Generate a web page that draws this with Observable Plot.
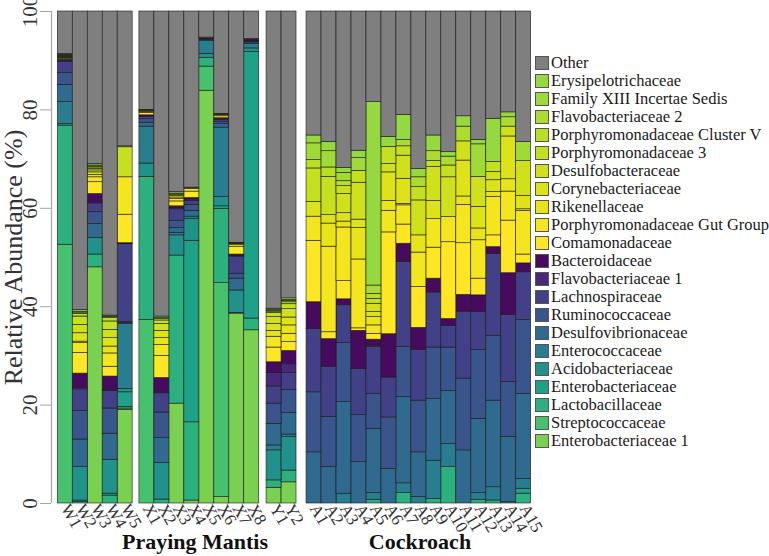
<!DOCTYPE html>
<html>
<head>
<meta charset="utf-8">
<script src="https://cdn.jsdelivr.net/npm/d3@7"></script>
<script src="https://cdn.jsdelivr.net/npm/@observablehq/plot@0.6"></script>
<style>
  body { margin: 0; background: #fff; }
  #wrap { position: relative; width: 769px; height: 556px; font-family: "Liberation Serif", "Times New Roman", serif; }
  #chart svg, #chart svg text { font-family: "Liberation Serif", "Times New Roman", serif !important; }
  #legend { position: absolute; left: 535px; top: 54px; }
  .row { display: flex; align-items: center; height: 18px; font-size: 16.5px; color: #1a1a1a; white-space: nowrap; }
  .sw { width: 14px; height: 14px; border: 1px solid #555; box-sizing: border-box; margin-right: 2px; flex: none; }
  .group { position: absolute; top: 529px; font-weight: bold; font-size: 22px; color: #111; transform: translateX(-50%); white-space: nowrap; }
</style>
</head>
<body>
<div id="wrap">
  <div id="chart"></div>
  <div id="legend"></div>
  <div class="group" style="left:195px">Praying Mantis</div>
  <div class="group" style="left:420px">Cockroach</div>
</div>
<script>
// Samples (x categories)
const samples = ["W1","W2","W3","W4","W5","X1","X2","X3","X4","X5","X6","X7","X8","Y1","Y2",
  "A1","A2","A3","A4","A5","A6","A7","A8","A9","A10","A11","A12","A13","A14","A15"];

// Relative abundance (%) per family, in sample order: W1-W5 | X1-X8 | Y1-Y2 | A1-A15
const enterobacteriaceae1 = [0,0,48.0,0,19.0, 0,0,20.3,0.6,83.9,1.3,38.6,35.2, 3.2,4.3, 0,0,0,0,0,0,0,0,0,0,0,0,0,0,0];
const streptococcaceae    = [52.6,0,0,0,0.3, 37.3,0,0,0,4.9,43.5,0,0, 0,0, 0,0,0,0,0,0,0,0,0,0,0,0,0,0,0];
const lactobacillaceae    = [24.2,0.3,2.6,1.6,0.3, 29.1,0.8,30.1,15.9,1.8,15.1,0,2.4, 1.5,2.4, 0,0,0,0,0.7,0,2.1,0,0.9,7.4,0,0.7,0.6,0,2.0];
const enterobacteriaceae  = [0,0.3,0,0.4,3.0, 0,0,0,36.9,0,0.5,0.1,54.2, 0,0, 0,0,0,0,0,0,0,0,0,0,0,0,0,0,1.0];
const acidobacteriaceae   = [0.3,6.8,3.4,6.9,0.7, 2.7,7.4,4.1,4.4,0.8,1.9,4.6,0.7, 6.1,6.8, 0,0,0,0,0,0,0,0,0,0,0,0,0,0,0];
const enterococcaceae     = [4.5,0,0,0,13.2, 7.5,0,0.5,0.5,2.6,14.1,0,0.9, 1.0,0.5, 0,0,2.0,0,1.4,0,2.0,1.3,7.8,4.7,0,1.4,2.7,0.3,2.0];
const desulfovibrionaceae = [3.5,5.6,2.8,5.3,0.2, 0.8,5.1,1.0,1.2,0.2,0.7,2.4,0.3, 4.4,4.4, 10.4,7.4,18.6,8.4,13.1,7.0,17.5,9.1,12.5,10.8,10.8,15.1,17.6,13.2,17.3];
const ruminococcaceae     = [2.4,5.8,2.4,5.1,0.2, 0.7,5.2,1.4,1.2,0.1,0.5,1.0,0.2, 4.1,4.7, 12.2,10.2,12.0,9.6,7.1,10.5,10.2,10.5,10.5,8.8,14.6,14.0,13.2,11.2,15.0];
const lachnospiraceae     = [2.2,4.4,1.8,3.6,15.8, 0.5,3.9,2.4,0.8,0.1,0.4,3.5,0.1, 3.5,3.4, 12.9,10.2,7.7,9.3,9.5,8.1,17.3,10.3,11.2,4.4,13.6,7.7,16.6,13.6,9.7];
const flavobacteriaceae1  = [0.2,0.3,0.2,0.2,0.1, 0,0,0.3,0.3,0,0,0.2,0, 2.7,1.8, 0,0,0,0,0.3,0,0,0,0,0,0,0,0,0,0];
const bacteroidaceae      = [0.3,2.9,1.7,2.7,0.1, 0.3,3.1,0.3,0.3,0.2,0.3,0.2,0.3, 2.2,2.7, 5.4,5.6,1.2,7.8,1.2,8.8,3.7,4.5,2.8,1.4,3.4,3.4,1.4,8.5,1.8];
const comamonadaceae      = [0.2,4.2,2.4,2.0,5.8, 0.5,4.5,1.0,1.3,0.1,0.4,1.6,0.1, 3.0,1.8, 12.5,1.4,3.7,0.5,1.2,20.7,3.9,8.3,6.3,15.6,10.5,3.4,2.4,10.7,1.8];
const porphGutGroup       = [0.1,2.0,1.0,2.7,7.6, 0.2,2.2,0.5,0.5,0,0.2,0.3,0, 2.2,1.7, 4.9,17.4,10.9,14.0,1.7,4.4,3.9,7.0,5.8,5.1,7.8,7.8,7.8,5.9,8.9];
const rikenellaceae       = [0.1,0.3,0.5,1.4,0, 0,1.4,0.3,0.1,0,0.1,0.2,0, 1.2,1.7, 0,4.7,1.2,6.4,1.7,2.0,0.3,3.5,0,0,1.7,2.4,1.0,2.5,0.3];
const corynebacteriaceae  = [0.1,1.7,0.5,1.7,0, 0.1,1.5,0.3,0.1,0,0.1,0.1,0, 1.4,1.6, 3.0,1.7,1.7,1.7,1.0,5.8,5.1,0,3.7,0,7.3,4.4,2.4,8.7,2.7];
const desulfobacteraceae  = [0.1,1.7,0.4,1.7,0, 0.1,1.4,0.2,0,0,0,0.1,0, 1.4,1.7, 0,0,3.9,7.5,1.7,1.7,4.7,7.1,6.9,8.1,3.9,6.1,1.7,2.0,7.1];
const porph3              = [0.1,1.7,0.3,1.7,6.1, 0.1,0.7,0.2,0,0,0,0,0, 0.8,1.0, 6.8,7.8,1.6,2.4,1.0,3.5,1.9,2.7,1.2,2.4,0,0,2.0,0,0];
const porphClusterV       = [0.1,0.5,0.3,0.7,0, 0,0.3,0.1,0,0,0,0,0, 0.3,0.4, 1.7,1.9,1.0,0,1.0,0,0,0,0,0,0,0,0,0,0];
const flavobacteriaceae2  = [0.1,0.3,0.2,0.2,0, 0,0.2,0,0,0,0,0,0, 0.2,0.3, 0,0,0,0,1.7,0,1.3,2.0,2.0,1.8,3.0,0,0,1.9,0];
const familyXIII          = [0.1,0.2,0.2,0.1,0, 0,0,0,0,0,0,0,0, 0.2,0.2, 3.4,3.3,1.7,2.6,0,0,0,0,0,0,0,6.6,0,0,3.9];
const erysipelotrichaceae = [0.2,0.3,0.3,0.2,0.2, 0.1,0.3,0.3,0.1,0,0.1,0.1,0, 0.2,0.3, 1.6,1.9,1.0,1.5,37.3,2.0,5.1,1.7,3.2,0.9,2.1,0.9,8.8,1.0,0];
const other               = [8.6,60.7,31.0,61.8,27.4, 20.0,62.0,36.7,35.8,5.3,20.8,47.0,5.6, 60.4,58.3, 25.2,26.5,31.8,28.3,18.4,25.5,21.0,32.0,25.2,28.6,21.3,26.1,21.8,20.5,26.5];

// Families, stacked bottom -> top
const series = [
  ["Enterobacteriaceae 1", enterobacteriaceae1],
  ["Streptococcaceae", streptococcaceae],
  ["Lactobacillaceae", lactobacillaceae],
  ["Enterobacteriaceae", enterobacteriaceae],
  ["Acidobacteriaceae", acidobacteriaceae],
  ["Enterococcaceae", enterococcaceae],
  ["Desulfovibrionaceae", desulfovibrionaceae],
  ["Ruminococcaceae", ruminococcaceae],
  ["Lachnospiraceae", lachnospiraceae],
  ["Flavobacteriaceae 1", flavobacteriaceae1],
  ["Bacteroidaceae", bacteroidaceae],
  ["Comamonadaceae", comamonadaceae],
  ["Porphyromonadaceae Gut Group", porphGutGroup],
  ["Rikenellaceae", rikenellaceae],
  ["Corynebacteriaceae", corynebacteriaceae],
  ["Desulfobacteraceae", desulfobacteraceae],
  ["Porphyromonadaceae 3", porph3],
  ["Porphyromonadaceae Cluster V", porphClusterV],
  ["Flavobacteriaceae 2", flavobacteriaceae2],
  ["Family XIII Incertae Sedis", familyXIII],
  ["Erysipelotrichaceae", erysipelotrichaceae],
  ["Other", other]
];
const families = series.map(d => d[0]);

// Colours (viridis positions) per family, same order
const viridisT = [0.80, 0.71, 0.64, 0.57, 0.50, 0.42, 0.34, 0.26, 0.19, 0.11, 0.03,
  1.0, 0.982, 0.964, 0.947, 0.929, 0.911, 0.893, 0.876, 0.858, 0.84];
const colors = viridisT.map(t => d3.interpolateViridis(t)).concat(["#7f7f7f"]);

const yTicks = [0, 20, 40, 60, 80, 100];

// layout: gaps between sample groups (in bar widths)
const gapAfter = {W5: 0.45, X8: 0.49, Y2: 0.67};
const start = new Map();
let pos = 0;
for (const s of samples) { start.set(s, pos); pos += 1 + (gapAfter[s] || 0); }
const centers = samples.map(s => start.get(s) + 0.5);
const nameAt = new Map(samples.map((s, i) => [centers[i], s]));

const rows = [];
series.forEach(([fam, vals]) => {
  vals.forEach((v, i) => { if (v > 0) rows.push({sample: samples[i], family: fam, value: v}); });
});

const serif = "'Liberation Serif', 'Times New Roman', serif";
const chart = Plot.plot({
  width: 769,
  height: 556,
  marginLeft: 51,
  marginRight: 238.3,
  marginTop: 11,
  marginBottom: 53,
  style: `font-family: ${serif}; background: #fff;`,
  x: {type: "linear", domain: [-0.42, pos]},
  y: {domain: [0, 100]},
  color: {domain: families, range: colors},
  marks: [
    Plot.rectY(rows, Plot.stackY({
      x1: d => start.get(d.sample),
      x2: d => start.get(d.sample) + 1,
      y: "value",
      fill: "family",
      stroke: "#1a1a1a",
      strokeWidth: 0.6
    })),
    Plot.ruleX([-0.42], {stroke: "#a6a6a6", strokeWidth: 1.2}),
    Plot.axisY({ticks: yTicks, tickSize: 11, tickRotate: -90, tickPadding: 4, fontSize: 21, fontFamily: serif, stroke: "#a6a6a6", fill: "#333", label: null}),
    Plot.axisX({ticks: centers, tickFormat: d => nameAt.get(d), tickRotate: 60, tickSize: 0, tickPadding: 2, fontSize: 17, fontFamily: serif, fill: "#333", label: null}),
    Plot.text(["Relative Abundance (%)"], {frameAnchor: "left", textAnchor: "middle", rotate: -90, dx: -38, dy: 0, fontSize: 26, fontFamily: serif, fill: "#333"})
  ]
});
document.getElementById("chart").appendChild(chart);

// Legend (top to bottom = reverse of stack)
const legend = document.getElementById("legend");
families.slice().reverse().forEach(f => {
  const row = document.createElement("div");
  row.className = "row";
  const sw = document.createElement("div");
  sw.className = "sw";
  sw.style.background = colors[families.indexOf(f)];
  const label = document.createElement("span");
  label.textContent = f;
  row.appendChild(sw);
  row.appendChild(label);
  legend.appendChild(row);
});
</script>
</body>
</html>
